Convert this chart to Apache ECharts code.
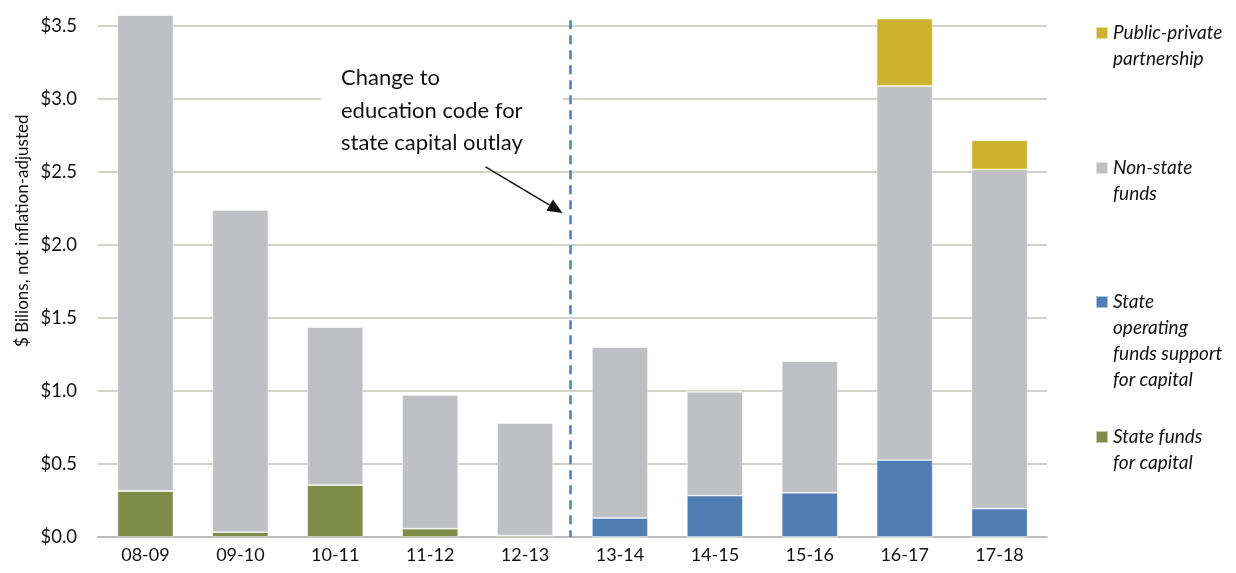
<!DOCTYPE html>
<html>
<head>
<meta charset="utf-8">
<script src="https://cdn.jsdelivr.net/npm/echarts@6/dist/echarts.min.js"></script>
<style>
  html, body { margin: 0; padding: 0; background: #fff; }
  #chart { width: 1236px; height: 573px; }
</style>
</head>
<body>
<div id="chart"></div>
<script>
// School years
const years = ['08-09', '09-10', '10-11', '11-12', '12-13', '13-14', '14-15', '15-16', '16-17', '17-18'];

// Capital outlay by source, $ billions (not inflation-adjusted)
const stateFundsForCapital   = [0.315, 0.034, 0.356, 0.057, 0.010, 0, 0, 0, 0, 0];
const stateOperatingSupport  = [0, 0, 0, 0, 0, 0.130, 0.283, 0.303, 0.527, 0.194];
const nonStateFunds          = [3.260, 2.206, 1.082, 0.916, 0.771, 1.171, 0.712, 0.902, 2.562, 2.324];
const publicPrivatePartner   = [0, 0, 0, 0, 0, 0, 0, 0, 0.461, 0.199];

// Value axis ticks
const yTicks = [0, 0.5, 1.0, 1.5, 2.0, 2.5, 3.0, 3.5];

const seriesNames = {
  ppp: 'Public-private partnership',
  nonState: 'Non-state funds',
  operating: 'State operating funds support for capital',
  stateFunds: 'State funds for capital'
};

// Wrapped legend text; leading blank lines keep the marker beside the first line
const legendLines = {
  [seriesNames.ppp]: ['Public-private', 'partnership'],
  [seriesNames.nonState]: ['Non-state', 'funds'],
  [seriesNames.operating]: ['State', 'operating', 'funds support', 'for capital'],
  [seriesNames.stateFunds]: ['State funds', 'for capital']
};

const colors = {
  stateFunds: '#7F8B48',
  operating: '#4F7DB4',
  nonState: '#BFC0C4',
  ppp: '#CDB22F'
};

const FONT = 'Lato, "Open Sans", sans-serif';
const LINE_H = 26;

function legendFor(name, centerY) {
  const lines = legendLines[name];
  const n = lines.length;
  return {
    data: [name],
    orient: 'vertical',
    left: 1095,
    top: centerY - (2 * n - 1) * LINE_H / 2,
    padding: 0,
    itemWidth: 12,
    itemHeight: 12,
    itemGap: 0,
    selectedMode: false,
    icon: 'rect',
    formatter: function (nm) {
      const l = legendLines[nm];
      return new Array(l.length - 1).fill(' ').concat(l).join('\n');
    },
    textStyle: {
      fontFamily: FONT,
      fontStyle: 'italic',
      fontSize: 19,
      lineHeight: LINE_H,
      color: '#111'
    }
  };
}

function barSeries(name, data, color) {
  return {
    name: name,
    type: 'bar',
    stack: 'total',
    data: data,
    barWidth: '59%',
    clip: false,
    itemStyle: { color: color, borderColor: 'rgba(255,255,255,0.55)', borderWidth: 0.8 },
    emphasis: { disabled: true }
  };
}

const chart = echarts.init(document.getElementById('chart'), null, { renderer: 'canvas' });

chart.setOption({
  animation: false,
  backgroundColor: '#fff',
  grid: { left: 98, right: 189, top: 26, bottom: 36, containLabel: false },
  legend: [
    legendFor(seriesNames.ppp, 33),
    legendFor(seriesNames.nonState, 168),
    legendFor(seriesNames.operating, 302),
    legendFor(seriesNames.stateFunds, 437)
  ],
  xAxis: {
    type: 'category',
    data: years,
    axisTick: { show: false },
    axisLine: { lineStyle: { color: '#BDBDBD', width: 2 } },
    axisLabel: { fontFamily: FONT, fontSize: 18, color: '#111', margin: 9 }
  },
  yAxis: {
    type: 'value',
    min: yTicks[0],
    max: yTicks[yTicks.length - 1],
    interval: 0.5,
    axisLine: { show: false },
    axisTick: { show: false },
    splitLine: { lineStyle: { color: '#C6C1B9', width: 1.5 } },
    axisLabel: {
      fontFamily: FONT, fontSize: 18.5, color: '#111', margin: 21,
      formatter: v => '$' + v.toFixed(1)
    }
  },
  series: [
    barSeries(seriesNames.stateFunds, stateFundsForCapital, colors.stateFunds),
    barSeries(seriesNames.operating, stateOperatingSupport, colors.operating),
    barSeries(seriesNames.nonState, nonStateFunds, colors.nonState),
    barSeries(seriesNames.ppp, publicPrivatePartner, colors.ppp)
  ]
});

// Annotations placed from the axes' own scales
const xMid = (chart.convertToPixel({ xAxisIndex: 0 }, 4) + chart.convertToPixel({ xAxisIndex: 0 }, 5)) / 2 - 2;
const yZero = chart.convertToPixel({ yAxisIndex: 0 }, 0);
const yTop = chart.convertToPixel({ yAxisIndex: 0 }, 3.54);

const tipX = xMid - 8;
const tipY = chart.convertToPixel({ yAxisIndex: 0 }, 2.22);
const startX = tipX - 77;
const startY = tipY - 46;
const ang = Math.atan2(tipY - startY, tipX - startX);
const headLen = 15, headHalf = 6.5;
const baseX = tipX - headLen * Math.cos(ang), baseY = tipY - headLen * Math.sin(ang);
const px = -Math.sin(ang) * headHalf, py = Math.cos(ang) * headHalf;

chart.setOption({
  graphic: [
    {
      type: 'text',
      rotation: Math.PI / 2,
      style: {
        text: '$ Bilions, not inflation-adjusted',
        fontFamily: FONT,
        fontSize: 17,
        fill: '#111'
      },
      x: 14, y: 347,
      z: 10
    },
    {
      type: 'rect',
      shape: { x: 321, y: 44, width: 242, height: 126 },
      style: { fill: '#fff' },
      z: 5
    },
    {
      type: 'text',
      x: 341, y: 62,
      style: {
        text: 'Change to\neducation code for\nstate capital outlay',
        fontFamily: FONT,
        fontSize: 22,
        lineHeight: 32.5,
        fill: '#111'
      },
      z: 6
    },
    {
      type: 'line',
      shape: { x1: xMid, y1: yTop, x2: xMid, y2: yZero },
      style: { stroke: '#4F7DB4', lineWidth: 2.5, lineDash: [9, 6] },
      z: 7
    },
    {
      type: 'line',
      shape: { x1: startX, y1: startY, x2: baseX, y2: baseY },
      style: { stroke: '#111', lineWidth: 1.5 },
      z: 8
    },
    {
      type: 'polygon',
      shape: { points: [[tipX, tipY], [baseX + px, baseY + py], [baseX - px, baseY - py]] },
      style: { fill: '#111' },
      z: 8
    }
  ]
});
</script>
</body>
</html>
